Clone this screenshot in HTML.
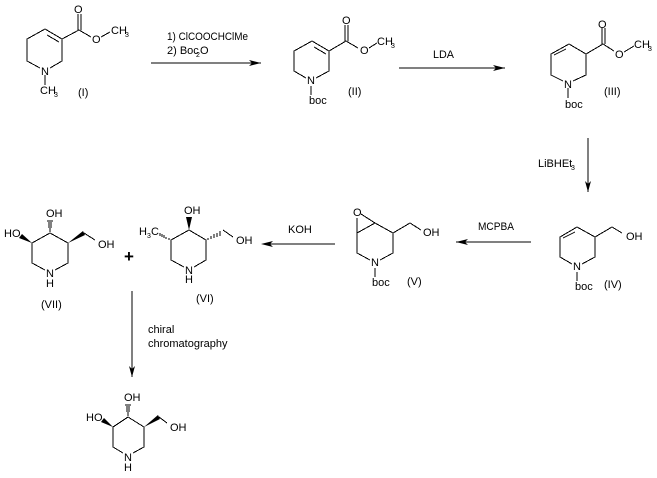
<!DOCTYPE html>
<html><head><meta charset="utf-8"><style>
html,body{margin:0;padding:0;background:#fff}
svg{display:block}
text{font-family:"Liberation Sans",sans-serif;font-size:11px;fill:#000}
.s{font-size:7px}
.l path{fill:none;stroke:#000;stroke-width:1;shape-rendering:crispEdges}
.f{fill:#000;stroke:none}
</style></head><body>
<svg width="657" height="478" viewBox="0 0 657 478" xmlns="http://www.w3.org/2000/svg">
<g class="l">
<!-- I -->
<path d="M45 29L62 39V61L50 68M40 68L27 61V39L45 29M47 35L59 42M45 75V85M62 39L79 30L91 37M78 30V14M81 30V14M101 37L110 32"/>
<!-- II -->
<path d="M312 41L329 51V71L316 78M306 78L294 71V51L312 41M314 47L326 54M311 86V95M329 51L346 41L358 48M345 41V25M348 41V25M369 48L377 43"/>
<!-- III -->
<path d="M569 44L586 54V75L573 81M563 81L551 75V54L569 44M566 49L554 55M568 88V98M586 54L603 44L614 51M602 44V28M605 44V28M624 52L634 46"/>
<!-- IV -->
<path d="M577 227L595 237V257L582 264M572 264L560 257V237L577 227M575 232L563 238M577 272V281M595 237L612 227L622 233"/>
<!-- V -->
<path d="M375 223L393 233V253L380 260M370 260L357 253V233L375 223M361 214L375 223M357 218V233M375 268V277M393 233L410 223L421 230"/>
<!-- VII -->
<path d="M50 233L68 243V263L55 270M45 270L32 263V243L50 233M84 233L95 240"/>
<!-- VI -->
<path d="M189 230L206 240V260L194 267M184 267L171 260V240L189 230M223 230L233 237"/>
<!-- product -->
<path d="M128 417L144 427V447L133 453M123 453L113 447V427L128 417M159 417L167 423"/>
<!-- arrows -->
<path d="M151 63H261M399 68H505M588 138V192M456 242H531M263 244H335M132 291V377"/>
</g>
<!-- arrowheads -->
<path class="f" d="M261 63L249 60L252 63L249 66Z"/>
<path class="f" d="M505 68L493 65L496 68L493 71Z"/>
<path class="f" d="M588 192L585 181L588 184L591 181Z"/>
<path class="f" d="M456 242L468 239L465 242L468 245Z"/>
<path class="f" d="M261 244L273 241L270 244L273 247Z"/>
<path class="f" d="M132 377L129 366L132 369L135 366Z"/>
<!-- wedges -->
<path class="f" d="M32 243L22 234L19 238Z"/>
<path class="f" d="M68 243L83 231L85 235Z"/>
<path class="f" d="M189 230L186 217H192Z"/>
<path class="f" d="M113 427L104 418L101 422Z"/>
<path class="f" d="M144 427L158 415L160 419Z"/>
<!-- hashed -->
<g stroke="#000" stroke-width="1" shape-rendering="crispEdges">
<path d="M49 231H51M49 229H51M48 227H52M48 225H52M48 223H52M47 221H53"/>
<path d="M127 415H129M127 413H129M126 411H130M126 409H130M126 407H130M125 405H131"/>
<path d="M169 238V240M166 237V239M164 235V238M162 234V237M160 233V236"/>
<path d="M208 238V240M211 236V239M214 234V238M217 233V237M220 231V236"/>
</g>
<!-- I labels -->
<text x="74" y="13">O</text><text x="92" y="43">O</text>
<text x="111" y="34">CH</text><text class="s" x="125" y="37">3</text>
<text x="41" y="75">N</text><text x="40" y="94">CH</text><text class="s" x="54" y="97">3</text>
<text x="78" y="96">(I)</text>
<!-- reagents -->
<text x="167" y="40" textLength="81" lengthAdjust="spacingAndGlyphs">1) ClCOOCHClMe</text>
<text x="167" y="54">2) Boc</text><text class="s" x="196" y="57">2</text><text x="200" y="54">O</text>
<!-- II labels -->
<text x="342" y="24">O</text><text x="360" y="54">O</text>
<text x="377" y="45">CH</text><text class="s" x="391" y="48">3</text>
<text x="307" y="84">N</text><text x="309" y="104">boc</text><text x="348" y="95">(II)</text>
<text x="433" y="58" textLength="21" lengthAdjust="spacingAndGlyphs">LDA</text>
<!-- III labels -->
<text x="598" y="28">O</text><text x="615" y="58">O</text>
<text x="634" y="48">CH</text><text class="s" x="648" y="51">3</text>
<text x="564" y="88">N</text><text x="565" y="108">boc</text><text x="604" y="95">(III)</text>
<text x="538" y="167">LiBHEt</text><text class="s" x="571" y="170">3</text>
<!-- IV labels -->
<text x="573" y="270">N</text><text x="575" y="290">boc</text><text x="604" y="288">(IV)</text>
<text x="626" y="240">OH</text>
<text x="478" y="230" textLength="36" lengthAdjust="spacingAndGlyphs">MCPBA</text>
<!-- V labels -->
<text x="353" y="216">O</text><text x="371" y="266">N</text><text x="372" y="286">boc</text>
<text x="407" y="285">(V)</text><text x="423" y="236">OH</text>
<text x="288" y="233">KOH</text>
<!-- VII labels -->
<text x="46" y="217">OH</text><text x="4" y="237">HO</text><text x="98" y="248">OH</text>
<text x="46" y="277">N</text><text x="46" y="287">H</text><text x="41" y="308">(VII)</text>
<text x="124" y="262" style="font-size:17px;font-weight:bold">+</text>
<!-- VI labels -->
<text x="184" y="214">OH</text><text x="139" y="235">H</text><text class="s" x="147" y="238">3</text><text x="151" y="235">C</text>
<text x="236" y="244">OH</text><text x="185" y="274">N</text><text x="185" y="283">H</text>
<text x="196" y="302">(VI)</text>
<!-- chiral -->
<text x="148" y="333">chiral</text><text x="148" y="347">chromatography</text>
<!-- product labels -->
<text x="124" y="401">OH</text><text x="86" y="421">HO</text><text x="170" y="431">OH</text>
<text x="124" y="461">N</text><text x="124" y="471">H</text>
</svg>
</body></html>
